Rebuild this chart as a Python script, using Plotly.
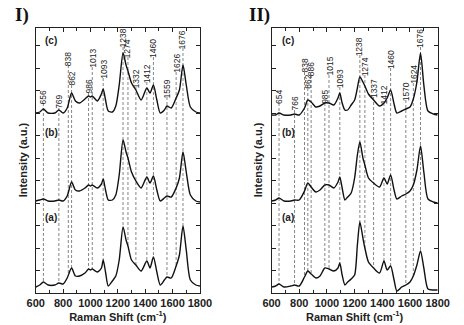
import numpy as np
import plotly.graph_objects as go

# ---------------- data (intensity in arbitrary units, curves already stacked) ----------------
wn_I = [600, 630, 656, 690, 740, 769, 800, 830, 862, 890, 920, 960, 986, 1000, 1013, 1050, 1080, 1093,
        1110, 1130, 1160, 1185, 1210, 1238, 1260, 1274, 1300, 1332, 1370, 1412, 1435, 1460, 1485, 1510,
        1540, 1559, 1590, 1626, 1650, 1676, 1700, 1730, 1770, 1800]
I_c = [180, 181, 184, 180, 180, 183, 180, 185, 200, 192, 190, 194, 197, 196, 197, 192, 199, 204,
       193, 182, 181, 187, 208, 240, 228, 222, 210, 203, 193, 205, 200, 208, 193, 180,
       183, 187, 185, 195, 203, 228, 208, 186, 181, 180]
I_b = [92, 93, 94, 92, 92, 93, 92, 97, 111, 103, 102, 105, 108, 107, 108, 105, 109, 114,
       103, 93, 93, 98, 118, 153, 141, 135, 121, 112, 105, 116, 110, 117, 103, 92,
       95, 97, 96, 105, 115, 141, 121, 98, 92, 91]
I_a = [6, 8, 11, 8, 8, 10, 9, 15, 25, 17, 17, 20, 24, 23, 24, 21, 25, 33,
       21, 7, 12, 17, 33, 66, 53, 47, 33, 28, 22, 32, 25, 36, 21, 8,
       13, 16, 15, 27, 38, 67, 43, 13, 8, 7]

wn_II = [600, 630, 654, 690, 740, 766, 800, 838, 862, 886, 920, 950, 985, 1015, 1050, 1080, 1093, 1110,
         1130, 1150, 1175, 1200, 1220, 1238, 1260, 1274, 1300, 1337, 1380, 1412, 1435, 1460, 1485, 1505,
         1540, 1570, 1600, 1624, 1650, 1676, 1700, 1730, 1770, 1800]
II_c = [178, 178, 180, 178, 178, 179, 178, 185, 193, 191, 186, 187, 190, 190, 188, 195, 200, 190,
        183, 183, 188, 193, 205, 216, 211, 207, 199, 193, 187, 190, 195, 203, 189, 180,
        182, 184, 186, 194, 211, 240, 208, 182, 179, 178]
II_b = [92, 93, 95, 92, 92, 93, 93, 102, 110, 106, 101, 103, 108, 108, 105, 111, 116, 105,
        93, 96, 100, 115, 138, 151, 135, 128, 115, 110, 106, 115, 109, 118, 103, 94,
        97, 99, 102, 108, 123, 147, 121, 94, 91, 90]
II_a = [6, 7, 9, 6, 7, 8, 7, 16, 22, 19, 15, 17, 25, 24, 22, 25, 30, 18,
        8, 11, 14, 18, 48, 71, 55, 45, 31, 25, 20, 32, 23, 27, 13, 2,
        6, 8, 11, 17, 28, 42, 25, 4, 3, 3]

peaks_I = [656, 769, 838, 862, 986, 1013, 1093, 1238, 1274, 1332, 1412, 1460, 1559, 1626, 1676]
labely_I = [190, 185, 228, 208, 200, 226, 215, 246, 236, 206, 211, 236, 196, 221, 245]
peaks_II = [654, 766, 838, 862, 886, 985, 1015, 1093, 1238, 1274, 1337, 1412, 1460, 1570, 1624, 1676]
labely_II = [190, 183, 221, 205, 218, 190, 218, 206, 238, 218, 196, 190, 225, 193, 210, 246]

curve_names = ["(c)", "(b)", "(a)"]
curve_label_y = [252, 161, 76]
x_ticks = [600, 800, 1000, 1200, 1400, 1600, 1800]

# ---------------- figure ----------------
W, H = 464, 325
fig = go.Figure()
FONT = "Liberation Sans, Arial, sans-serif"
SERIF = "Liberation Serif, Times New Roman, serif"

panels = [
    ("x", "y", wn_I, [I_c, I_b, I_a], peaks_I, labely_I, 650),
    ("x2", "y2", wn_II, [II_c, II_b, II_a], peaks_II, labely_II, 662),
]

annotations = []
for xr, yr, wn, curves, peaks, laby, labx in panels:
    bottom = curves[2]
    dx, dy = [], []
    for p, ly in zip(peaks, laby):
        yb = float(np.interp(p, wn, bottom))
        dx += [p, p, None]
        dy += [ly, yb, None]
    fig.add_trace(go.Scatter(x=dx, y=dy, mode="lines", xaxis=xr, yaxis=yr,
                             line=dict(color="#666666", width=0.8, dash="3px,2px"),
                             hoverinfo="skip", showlegend=False))
    for c in curves:
        fig.add_trace(go.Scatter(x=wn, y=c, mode="lines", xaxis=xr, yaxis=yr,
                                 line=dict(color="#111111", width=1.4, shape="spline", smoothing=0.7),
                                 showlegend=False))
    for p, ly in zip(peaks, laby):
        annotations.append(dict(x=p, y=ly - 2, xref=xr, yref=yr, text=str(p), showarrow=False,
                                textangle=-90, xanchor="center", yanchor="bottom", borderpad=0,
                                font=dict(family=FONT, size=8.5, color="#222222")))
    for name, cy in zip(curve_names, curve_label_y):
        annotations.append(dict(x=labx, y=cy, xref=xr, yref=yr, text=name, showarrow=False,
                                xanchor="left", yanchor="middle",
                                font=dict(family=FONT, size=10, color="#222222", weight="bold")))

def paper(x, y):
    return x / W, 1 - y / H

for txt, px, py in [("I)", 4, 15), ("II)", 249, 15)]:
    ax, ay = paper(px, py)
    annotations.append(dict(x=ax, y=ay, xref="paper", yref="paper", text=txt, showarrow=False,
                            xanchor="left", yanchor="middle",
                            font=dict(family=SERIF, size=19, color="#111111", weight="bold")))
for px in [15, 261]:
    ax, ay = paper(px, 160)
    annotations.append(dict(x=ax, y=ay, xref="paper", yref="paper", text="Intensity (a.u.)",
                            textangle=-90, showarrow=False, xanchor="center", yanchor="middle",
                            font=dict(family=FONT, size=11, color="#222222", weight="bold")))

ydom = [1 - 293 / H, 1 - 28 / H]

def xaxis(dom, anchor):
    return dict(domain=dom, anchor=anchor, range=[600, 1800], tickvals=x_ticks,
                ticks="inside", ticklen=4, tickwidth=1, tickcolor="#222",
                minor=dict(dtick=100, tick0=600, ticks="inside", ticklen=3, tickcolor="#222"),
                showline=True, linecolor="#222", linewidth=1.2, mirror="ticks",
                showgrid=False, zeroline=False,
                tickfont=dict(family=FONT, size=11, color="#222", weight="bold"),
                title=dict(text="Raman Shift (cm<sup>-1</sup>)", standoff=2,
                           font=dict(family=FONT, size=11, color="#222", weight="bold")))

def yaxis(anchor):
    return dict(domain=ydom, anchor=anchor, range=[0, 265], tick0=0, dtick=22.5,
                ticks="inside", ticklen=4, tickcolor="#222", showticklabels=False,
                showline=True, linecolor="#222", linewidth=1.2, mirror="ticks",
                showgrid=False, zeroline=False)

fig.update_layout(
    width=W, height=H, margin=dict(l=0, r=0, t=0, b=0),
    paper_bgcolor="white", plot_bgcolor="white",
    xaxis=xaxis([28 / W, 200 / W], "y"),
    yaxis=yaxis("x"),
    xaxis2=xaxis([275 / W, 449 / W], "y2"),
    yaxis2=yaxis("x2"),
    annotations=annotations,
)

fig.write_html("out.html", config={"displayModeBar": False},
               post_script="document.body.style.margin='0px';document.body.style.overflow='hidden';")
